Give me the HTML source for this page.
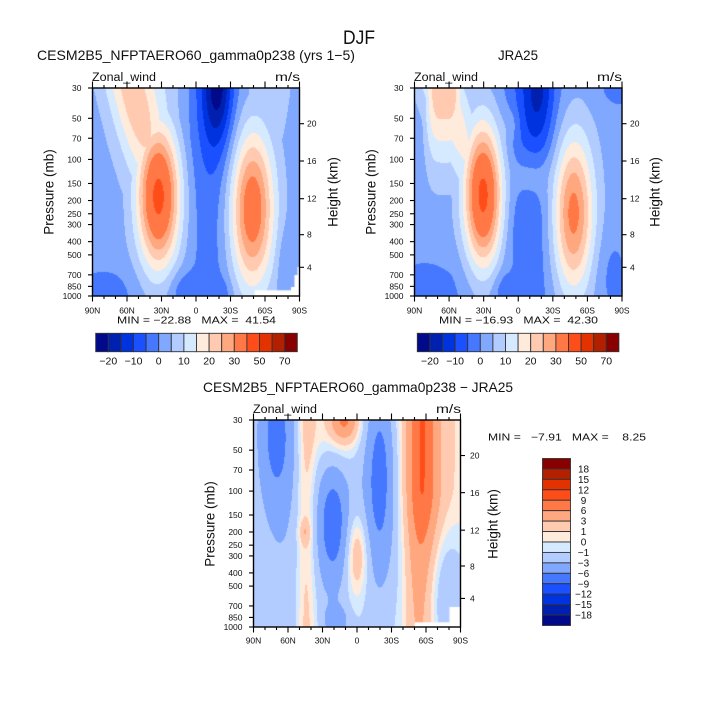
<!DOCTYPE html>
<html><head><meta charset="utf-8">
<style>
html,body{margin:0;padding:0;background:#fff;}
body{width:715px;height:715px;position:relative;overflow:hidden;}
canvas{position:absolute;}
svg{position:absolute;left:0;top:0;}
text{font-family:"Liberation Sans",sans-serif;fill:#111;}
</style></head>
<body>
<canvas id="ca" width="208" height="208" style="left:92px;top:88px"></canvas>
<canvas id="cb" width="208" height="208" style="left:414px;top:88px"></canvas>
<canvas id="cc" width="208" height="207" style="left:253px;top:420px"></canvas>
<svg id="s" width="715" height="715" viewBox="0 0 715 715">
<g id="ticks" stroke="#000" stroke-width="1.1" fill="none"></g>
<g id="bars"></g>
<text x="359" y="44" font-size="19" text-anchor="middle" textLength="32" lengthAdjust="spacingAndGlyphs">DJF</text>
<text x="37" y="60" font-size="14" textLength="318" lengthAdjust="spacingAndGlyphs">CESM2B5_NFPTAERO60_gamma0p238 (yrs 1−5)</text>
<text x="498" y="60" font-size="14" textLength="40" lengthAdjust="spacingAndGlyphs">JRA25</text>
<text x="203" y="392" font-size="14" textLength="310" lengthAdjust="spacingAndGlyphs">CESM2B5_NFPTAERO60_gamma0p238 − JRA25</text>
<text x="92" y="81" font-size="11.5" textLength="64" lengthAdjust="spacingAndGlyphs">Zonal_wind</text>
<text x="300" y="81" font-size="11.5" text-anchor="end" textLength="25" lengthAdjust="spacingAndGlyphs">m/s</text>
<text x="414" y="81" font-size="11.5" textLength="64" lengthAdjust="spacingAndGlyphs">Zonal_wind</text>
<text x="622" y="81" font-size="11.5" text-anchor="end" textLength="25" lengthAdjust="spacingAndGlyphs">m/s</text>
<text x="253" y="413" font-size="11.5" textLength="64" lengthAdjust="spacingAndGlyphs">Zonal_wind</text>
<text x="461" y="413" font-size="11.5" text-anchor="end" textLength="25" lengthAdjust="spacingAndGlyphs">m/s</text>
<text font-size="13.5" text-anchor="middle" transform="translate(53.5,192) rotate(-90)">Pressure (mb)</text>
<text font-size="13.5" text-anchor="middle" transform="translate(337.5,192) rotate(-90)">Height (km)</text>
<text font-size="13.5" text-anchor="middle" transform="translate(375.5,192) rotate(-90)">Pressure (mb)</text>
<text font-size="13.5" text-anchor="middle" transform="translate(659.5,192) rotate(-90)">Height (km)</text>
<text font-size="13.5" text-anchor="middle" transform="translate(214.5,524) rotate(-90)">Pressure (mb)</text>
<text font-size="13.5" text-anchor="middle" transform="translate(497.5,524) rotate(-90)">Height (km)</text>
<g font-size="8.5" text-anchor="end">
<text x="81.5" y="91">30</text><text x="81.5" y="121.3">50</text><text x="81.5" y="141.3">70</text><text x="81.5" y="162.4">100</text><text x="81.5" y="186.5">150</text><text x="81.5" y="203.5">200</text><text x="81.5" y="216.8">250</text><text x="81.5" y="227.6">300</text><text x="81.5" y="244.6">400</text><text x="81.5" y="257.9">500</text><text x="81.5" y="277.8">700</text><text x="81.5" y="289.4">850</text><text x="81.5" y="299">1000</text>
<text x="403.5" y="91">30</text><text x="403.5" y="121.3">50</text><text x="403.5" y="141.3">70</text><text x="403.5" y="162.4">100</text><text x="403.5" y="186.5">150</text><text x="403.5" y="203.5">200</text><text x="403.5" y="216.8">250</text><text x="403.5" y="227.6">300</text><text x="403.5" y="244.6">400</text><text x="403.5" y="257.9">500</text><text x="403.5" y="277.8">700</text><text x="403.5" y="289.4">850</text><text x="403.5" y="299">1000</text>
<text x="242.5" y="423">30</text><text x="242.5" y="453.2">50</text><text x="242.5" y="473">70</text><text x="242.5" y="494.1">100</text><text x="242.5" y="518">150</text><text x="242.5" y="535">200</text><text x="242.5" y="548.2">250</text><text x="242.5" y="558.9">300</text><text x="242.5" y="575.9">400</text><text x="242.5" y="589.1">500</text><text x="242.5" y="608.9">700</text><text x="242.5" y="620.4">850</text><text x="242.5" y="630">1000</text>
</g>
<g font-size="8.5">
<text x="307" y="270.3">4</text><text x="307" y="237.7">8</text><text x="307" y="201.7">12</text><text x="307" y="164">16</text><text x="307" y="126.7">20</text>
<text x="630" y="270.3">4</text><text x="630" y="237.7">8</text><text x="630" y="201.7">12</text><text x="630" y="164">16</text><text x="630" y="126.7">20</text>
<text x="470" y="601.7">4</text><text x="470" y="569.3">8</text><text x="470" y="533.3">12</text><text x="470" y="496">16</text><text x="470" y="458.7">20</text>
</g>
<g font-size="8.5" text-anchor="middle">
<text x="92.5" y="313.5">90N</text><text x="127" y="313.5">60N</text><text x="161.5" y="313.5">30N</text><text x="196" y="313.5">0</text><text x="230.5" y="313.5">30S</text><text x="265" y="313.5">60S</text><text x="299.5" y="313.5">90S</text>
<text x="414.5" y="313.5">90N</text><text x="449.1" y="313.5">60N</text><text x="483.7" y="313.5">30N</text><text x="518.3" y="313.5">0</text><text x="552.8" y="313.5">30S</text><text x="587.4" y="313.5">60S</text><text x="622" y="313.5">90S</text>
<text x="253.5" y="643.5">90N</text><text x="288" y="643.5">60N</text><text x="322.5" y="643.5">30N</text><text x="357" y="643.5">0</text><text x="391.5" y="643.5">30S</text><text x="426" y="643.5">60S</text><text x="460.5" y="643.5">90S</text>
</g>
<text x="117" y="323.5" font-size="10" xml:space="preserve" style="white-space:pre" textLength="159" lengthAdjust="spacingAndGlyphs">MIN = −22.88   MAX =  41.54</text>
<text x="439" y="323.5" font-size="10" xml:space="preserve" style="white-space:pre" textLength="159" lengthAdjust="spacingAndGlyphs">MIN = −16.93   MAX =  42.30</text>
<text x="488" y="440.5" font-size="10" xml:space="preserve" style="white-space:pre" textLength="158" lengthAdjust="spacingAndGlyphs">MIN =   −7.91   MAX =    8.25</text>
<g font-size="10.5" text-anchor="middle">
<text x="108.3" y="364.5">−20</text><text x="133.5" y="364.5">−10</text><text x="158.7" y="364.5">0</text><text x="183.9" y="364.5">10</text><text x="209.1" y="364.5">20</text><text x="234.3" y="364.5">30</text><text x="259.5" y="364.5">50</text><text x="284.7" y="364.5">70</text>
<text x="429.9" y="364.5">−20</text><text x="455.1" y="364.5">−10</text><text x="480.3" y="364.5">0</text><text x="505.5" y="364.5">10</text><text x="530.7" y="364.5">20</text><text x="555.9" y="364.5">30</text><text x="581.1" y="364.5">50</text><text x="606.3" y="364.5">70</text>
</g>
<g font-size="10" text-anchor="middle">
<text x="583.5" y="472.4">18</text><text x="583.5" y="482.9">15</text><text x="583.5" y="493.3">12</text><text x="583.5" y="503.8">9</text><text x="583.5" y="514.2">6</text><text x="583.5" y="524.6">3</text><text x="583.5" y="535.1">1</text><text x="583.5" y="545.5">0</text><text x="583.5" y="555.9">−1</text><text x="583.5" y="566.4">−3</text><text x="583.5" y="576.8">−6</text><text x="583.5" y="587.3">−9</text><text x="583.5" y="597.7">−12</text><text x="583.5" y="608.1">−15</text><text x="583.5" y="618.6">−18</text>
</g>
</svg>
<script>
const COLS=['#000a8a','#0020b0','#0033e0','#1a50ff','#4578ff','#80a8ff','#b3ccff','#d6eaff','#ffebdc','#ffcab0','#ffa77e','#ff7845','#ff4d1a','#e33200','#b32000','#880000'];
const L1=[-20,-15,-10,-5,0,5,10,15,20,25,30,40,50,60,70];
const L2=[-18,-15,-12,-9,-6,-3,-1,0,1,3,6,9,12,15,18];
function sq(x){return x*x;}
function G(u,v,cu,cv,su,sv){return Math.exp(-0.5*(sq((u-cu)/su)+sq((v-cv)/sv)));}
function hex(c){return [parseInt(c.substr(1,2),16),parseInt(c.substr(3,2),16),parseInt(c.substr(5,2),16)];}
const RGB=COLS.map(hex);
function render(id,f,L,white){
  const c=document.getElementById(id),ctx=c.getContext('2d'),w=c.width,h=c.height;
  const img=ctx.createImageData(w,h);
  for(let y=0;y<h;y++)for(let x=0;x<w;x++){
    const u=(x+0.5)/w,v=(y+0.5)/h,val=f(u,v);
    let k=0;while(k<L.length&&val>=L[k])k++;
    const col=RGB[k],i=(y*w+x)*4;
    img.data[i]=col[0];img.data[i+1]=col[1];img.data[i+2]=col[2];img.data[i+3]=255;
  }
  ctx.putImageData(img,0,0);
  ctx.fillStyle='#fff';
  (white||[]).forEach(r=>ctx.fillRect(r[0],r[1],r[2]-r[0],r[3]-r[1]));
}
const FA=(u,v)=>{
  let f=2.5;
  f+=-5*Math.exp(-0.5*sq((u-0.57)/0.075));
  f+=-17*G(u,v,0.605,-0.02,0.05,0.2);
  f+=-5*G(u,v,0.58,0.05,0.1,0.3);
  const nj=40*G(u,v,0.32,0.52,0.072,0.24);
  const nt=17*Math.exp(-0.5*sq((u-(0.18+0.25*v))/0.085))*Math.exp(-0.5*sq(v/0.4))+6*Math.exp(-0.5*sq((u-0.3)/0.12))*Math.exp(-0.5*sq(v/0.4));
  f+=Math.max(nj,nt);
  const sj=33*G(u,v,0.77,0.58,0.075,0.27);
  const st=7*Math.exp(-0.5*sq((u-(0.84-0.1*v))/0.08))*Math.exp(-0.5*sq(v/0.35));
  f+=Math.max(sj,st);
  f+=-5*G(u,v,0.06,1.0,0.12,0.1);
  f+=-6*G(u,v,0.43,0.97,0.05,0.07);
  f+=-4*G(u,v,0.62,0.98,0.04,0.05);
  f+=-4*G(u,v,0.93,0.85,0.03,0.12);
  return f;
};
const FB=(u,v)=>{
  let f=2.5;
  f+=-5.5*Math.exp(-0.5*sq((u-0.56)/0.09));
  f+=7*G(u,v,0.56,0.42,0.06,0.09);
  f+=-10*G(u,v,0.6,-0.02,0.05,0.2);
  f+=-5*G(u,v,0.58,0.05,0.1,0.3);
  f+=4*G(u,v,0.47,0.17,0.03,0.06);
  const nj=40*G(u,v,0.333,0.515,0.065,0.24);
  const d1=(u-0.145)/0.075;
  const t1=21*Math.exp(-0.5*d1*d1*d1*d1)*Math.exp(-0.5*sq(v/0.25));
  const t2=16*Math.exp(-0.5*sq((u-(0.14+0.33*v))/0.08))*Math.exp(-0.5*sq(v/0.5));
  const t3=5*Math.exp(-0.5*sq((u-0.22)/0.12))*Math.exp(-0.5*sq(v/0.45));
  f+=Math.max(nj,t1,t2,t3);
  f+=30*G(u,v,0.765,0.6,0.07,0.27);
  f+=-5*G(u,v,0.08,1,0.15,0.15);
  f+=-5*G(u,v,0.43,0.97,0.04,0.06);
  f+=-4*G(u,v,0.95,0.9,0.06,0.15);
  f+=-4*G(u,v,0.98,0,0.08,0.08);
  f+=-2*G(u,v,0.52,0.85,0.06,0.25);
  return f;
};
const FC=(u,v)=>{
  let f=-0.6;
  f+=-5*G(u,v,0.11,0.08,0.06,0.25);
  f+=-1.8*Math.exp(-0.5*sq((u-0.14)/0.09));
  f+=3*Math.exp(-0.5*sq((u-0.255)/0.035));
  f+=2.5*G(u,v,0.25,0.54,0.02,0.04);
  f+=6*G(u,v,0.44,0.0,0.045,0.07)+2.5*G(u,v,0.40,0.05,0.09,0.15);
  f+=-5.5*G(u,v,0.385,0.5,0.05,0.2)-2*G(u,v,0.38,0.5,0.09,0.35);
  f+=4.5*G(u,v,0.5,0.65,0.04,0.15);
  f+=-5*G(u,v,0.61,0.25,0.045,0.3)-2.5*G(u,v,0.60,0.4,0.08,0.42);
  f+=4*Math.exp(-0.5*sq((u-0.825)/0.055))*Math.exp(-0.5*sq(Math.max(0,v-0.3)/0.25));
  f+=4.5*Math.exp(-0.5*sq((u-0.80)/0.05))*Math.exp(-0.5*sq(Math.max(0,v-0.6)/0.8));
  f+=1.8*Math.exp(-0.5*sq((u-0.88)/0.14))*Math.exp(-0.5*sq(Math.max(0,v-0.3)/0.2));
  f+=-3.5*G(u,v,0.40,0.97,0.04,0.05);
  f+=-2*G(u,v,0.93,0.85,0.06,0.2);
  return f;
};
render('ca',FA,L1,[[162.7,202.3,208,208],[199,199,208,208],[202.5,187,208,208],[205.5,179,208,208]]);
render('cb',FB,L1,[]);
render('cc',FC,L2,[[161.7,202.3,208,207],[196.5,187,208,207]]);

const NS='http://www.w3.org/2000/svg';
const tg=document.getElementById('ticks');
function ln(x1,y1,x2,y2,sw){const e=document.createElementNS(NS,'line');e.setAttribute('x1',x1);e.setAttribute('y1',y1);e.setAttribute('x2',x2);e.setAttribute('y2',y2);if(sw)e.setAttribute('stroke-width',sw);tg.appendChild(e);}
function rect(p,x,y,w,h,fill,stroke,sw){const e=document.createElementNS(NS,'rect');e.setAttribute('x',x);e.setAttribute('y',y);e.setAttribute('width',w);e.setAttribute('height',h);e.setAttribute('fill',fill);if(stroke){e.setAttribute('stroke',stroke);e.setAttribute('stroke-width',sw);}p.appendChild(e);}
const PR=[30,50,70,100,150,200,250,300,400,500,700,850,1000];
const HT=[179.3,146.7,110.7,73,35.7];
function axes(x0,y0,w,h){
  rect(tg,x0,y0,w,h,'none','#000',1.4);
  for(let i=0;i<=18;i++){
    const x=x0+i*w/18,maj=i%3==0;
    ln(x,y0+h,x,y0+h+(maj?5.5:3));
    ln(x,y0,x,y0-(maj?6.5:3));
  }
  PR.forEach(p=>{const y=y0+h-h*Math.log(1000/p)/Math.log(1000/30);ln(x0-4.5,y,x0,y);});
  HT.forEach(d=>{const y=y0+d*h/208;ln(x0+w,y,x0+w+4.5,y);});
}
axes(92.5,88,207,208);
axes(414.5,88,207.5,208);
axes(253.5,420,207,207);
const bg=document.getElementById('bars');
function hbar(x0,y0,w,h){const bw=w/16;for(let i=0;i<16;i++)rect(bg,x0+i*bw,y0,bw,h,COLS[i],'#333',0.9);}
hbar(95.7,333.3,201.6,18.4);
hbar(417.3,333.3,201.6,18.4);
(function(){const x0=542.5,y0=458.5,w=28,h=167,bh=h/16;for(let i=0;i<16;i++)rect(bg,x0,y0+i*bh,w,bh,COLS[15-i],'#333',0.9);})();
</script>
</body></html>
